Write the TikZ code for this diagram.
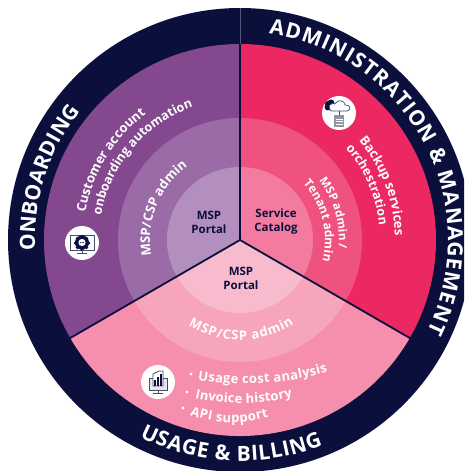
\documentclass[tikz,border=0pt]{standalone}
\usepackage{fontspec}
\setmainfont{Open Sans}
\usetikzlibrary{decorations.text}
\definecolor{navy}{HTML}{0A0F3C}
\definecolor{purA}{HTML}{84488F}
\definecolor{purB}{HTML}{9B6BA8}
\definecolor{purC}{HTML}{B28FBE}
\definecolor{redA}{HTML}{EC2862}
\definecolor{redB}{HTML}{F0527F}
\definecolor{redC}{HTML}{F47BA0}
\definecolor{pinA}{HTML}{F58FAD}
\definecolor{pinB}{HTML}{F6A5BC}
\definecolor{pinC}{HTML}{F8BBCD}
\newcommand\ringf{\color{white}\bfseries\fontsize{21}{21}\selectfont}
\newcommand\bodyf{\color{white}\bfseries\fontsize{13}{13}\selectfont}
\newcommand\midf{\color{white}\bfseries\fontsize{12.5}{12.5}\selectfont}
\newcommand\tightf{\color{white}\bfseries\fontsize{12}{12}\selectfont}
\newcommand\smallf{\color{white}\bfseries\fontsize{11.5}{11.5}\selectfont}
% text fitted along an arc: radius, start angle, end angle, text, format
\newcommand\arctxt[5]{\path[decorate,decoration={text along path,text align={fit to path},text={|#5|#4}}]
  (#2:#1) arc[start angle=#2,end angle=#3,radius=#1];}
\newcommand\sector[4]{\fill[#1] (0,0) -- (#3:#4) arc[start angle=#3,end angle=#2,radius=#4] -- cycle;}
\tikzset{
  centerlabel/.style={text=navy,font=\bfseries\fontsize{11.5}{14}\selectfont,align=center,inner sep=0pt},
  divider/.style={draw=navy,line width=1.8pt},
  iconbg/.style={fill=white,circle,minimum size=34pt,inner sep=0pt},
  iconline/.style={draw=navy!75,line width=0.7pt},
  iconfill/.style={fill=navy},
  bulletdot/.style={fill=white,circle,minimum size=3.2pt,inner sep=0pt}
}
\begin{document}
\begin{tikzpicture}[x=1pt,y=1pt]
\useasboundingbox (-240,240) rectangle (224,-231);
\clip (-240,240) rectangle (224,-231);
\fill[white] (-240,240) rectangle (224,-231);
\fill[navy] (0,0) circle[radius=232];
\foreach \r/\a/\b/\c in {196/purA/redA/pinA,122/purB/redB/pinB,73/purC/redC/pinC}{
  \sector{\a}{90}{210}{\r}
  \sector{\b}{-30}{90}{\r}
  \sector{\c}{210}{330}{\r}
}
\coordinate (c) at (0,0);
\coordinate (d1) at (90:196);
\coordinate (d2) at (210:197);
\coordinate (d3) at (330:197);
\draw[divider] (c) -- (d1);
\draw[divider] (c) -- (d2);
\draw[divider] (c) -- (d3);
\coordinate (d1o) at (90:232);
\draw[navy!70!white,line width=0.5pt] (d1) -- (d1o);

\arctxt{205}{183}{141}{ONBOARDING}{\ringf}
\arctxt{208}{82}{-26}{ADMINISTRATION {\&} MANAGEMENT}{\ringf}
\arctxt{221}{243}{292}{USAGE {\&} BILLING}{\ringf}

\arctxt{157}{170}{127.5}{Customer account}{\bodyf}
\arctxt{141}{170}{110}{onboarding automation}{\midf}
\arctxt{90}{190}{126.5}{MSP/CSP admin}{\bodyf}
\arctxt{155}{40}{1.5}{Backup services}{\bodyf}
\arctxt{140}{41}{7}{orchestration}{\midf}
\arctxt{99}{37}{-5}{MSP admin /}{\smallf}
\arctxt{85}{42}{-13}{Tenant admin}{\tightf}
\arctxt{100}{239}{302.5}{MSP/CSP admin}{\bodyf}

\path[decorate,decoration={text along path,text align={fit to path},text={|\bodyf|Usage cost analysis}}]
  (-42,-140) .. controls (1.6,-146.6) and (45,-144) .. (87.5,-132);
\path[decorate,decoration={text along path,text align={fit to path},text={|\bodyf|Invoice history}}]
  (-45,-158) .. controls (-13,-165.5) and (20,-165) .. (52.5,-157);
\path[decorate,decoration={text along path,text align={fit to path},text={|\bodyf|API support}}]
  (-50,-175) .. controls (-24,-184) and (2,-185) .. (28.5,-177);
\node[bulletdot] (b1) at (-49,-134) {};
\node[bulletdot] (b2) at (-53,-152) {};
\node[bulletdot] (b3) at (-57,-168) {};

\node[centerlabel] (l1) at (-31,18) {MSP\\Portal};
\node[centerlabel] (l2) at (36,18) {Service\\Catalog};
\node[centerlabel] (l3) at (1,-38) {MSP\\Portal};

% icons
\node[iconbg] (i1) at (-158,-3) {};
\begin{scope}[shift={(i1.center)}]
  \draw[iconline] (-12,8) rectangle (12,-7);
  \fill[iconfill] (0,0.5) circle[radius=7];
  \foreach \a in {0,45,...,315}{\fill[iconfill] (\a:6.5) circle[radius=1.8];}
  \fill[white] (0,0.5) circle[radius=3.6];
  \foreach \x in {-1.6,0,1.6}{\fill[iconfill] (\x,0.5) circle[radius=0.6];}
  \draw[iconline] (0,-7) -- (0,-10) (-5,-10.5) -- (5,-10.5);
\end{scope}
\node[iconbg] (i2) at (99,127) {};
\begin{scope}[shift={(i2.center)}]
  \fill[iconfill] (-11,6) circle[radius=3.5] (-8,10) circle[radius=3.5] (-11,9) circle[radius=3];
  \draw[iconline,fill=white] (-9,3.5) .. controls (-12,9) and (-6,10) .. (-4,9) .. controls (-2,14) and (6,13) .. (6,8) .. controls (12,9) and (12,2) .. (8,2) -- (-7,2) .. controls (-8,2) and (-9,3) .. (-9,3.5);
  \draw[iconline] (0,2) -- (0,-2);
  \fill[navy!45!white] (-5,-2) rectangle (5,-14);
  \draw[white,line width=0.6pt] (-3.5,-6) -- (3.5,-6) (-3.5,-8.5) -- (3.5,-8.5) (-3.5,-11) -- (3.5,-11);
\end{scope}
\node[iconbg] (i3) at (-82,-142) {};
\begin{scope}[shift={(i3.center)}]
  \draw[iconline,fill=navy!10] (-9,4) rectangle (9,-8);
  \draw[iconline,fill=white] (-5,-4) -- (-5,8) -- (1,11) -- (5,11) -- (5,-4) -- cycle;
  \fill[iconfill] (-3.5,-4) rectangle (-1.5,2);
  \fill[iconfill] (-0.5,-4) rectangle (1.5,5);
  \fill[iconfill] (2.5,-4) rectangle (4.5,8);
  \draw[iconline] (0,-8) -- (0,-11) (-5,-11.5) -- (5,-11.5);
\end{scope}
\end{tikzpicture}
\end{document}
